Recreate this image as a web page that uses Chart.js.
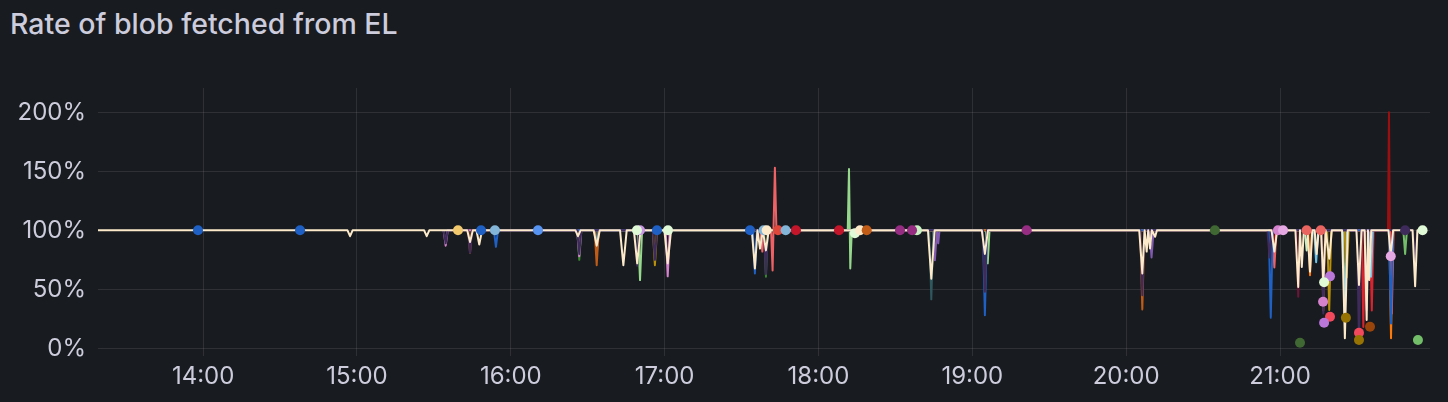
<!DOCTYPE html>
<html>
<head>
<meta charset="utf-8">
<script src="https://cdn.jsdelivr.net/npm/chart.js@4.4.1/dist/chart.umd.min.js"></script>
<style>
  html, body { margin: 0; padding: 0; background: #181b1f; }
  #wrap { position: relative; width: 1448px; height: 402px; background: #181b1f; overflow: hidden; }
  #title { position: absolute; left: 10px; top: 10px; font-family: Inter, sans-serif; font-size: 28.5px; font-weight: 500; line-height: 28px; color: #ccccdc; white-space: nowrap; }
  canvas { position: absolute; left: 0; top: 0; }
</style>
</head>
<body>
<div id="wrap">
  <div id="title">Rate of blob fetched from EL</div>
  <canvas id="c" width="1448" height="402"></canvas>
</div>
<script>
// Time values are minutes since midnight; values are percent.
const xTickMinutes = [840, 900, 960, 1020, 1080, 1140, 1200, 1260];
const yTickValues = [0, 50, 100, 150, 200];

const seriesColors = ['#FCEACA', '#3F2B5B', '#1F60C4', '#C15C17', '#96D98D', '#D683CE', '#B8900A', '#EE6266', '#2F575E', '#7F5AAE', '#9A1010', '#6B1538', '#6EC3E6', '#D8242E', '#FF780A', '#C8F2C2', '#73BF69', '#37872D'];

const cream = [[799,100],[896.3,100],[897.3,95],[898.3,100],[926.2,100],[927.2,95],[928.2,100],[943,100],[944.1,90],[945.2,100],[946.6,100],[947.7,88],[948.8,100],[985.2,100],[986.2,95],[987.2,100],[992.3,100],[993.5,87],[994.7,100],[1002.6,100],[1003.9,70.5],[1005.2,100],[1008,100],[1009.3,72],[1010.6,100],[1019.9,100],[1021.2,72],[1022.5,100],[1054,100],[1055.2,67.7],[1056.2,100],[1057.2,84.6],[1058.3,100],[1059.5,83],[1060.6,100],[1122.7,100],[1124,59],[1125.3,100],[1143.7,100],[1144.9,80],[1146.1,100],[1205.1,100],[1206.3,63.5],[1207.2,100],[1208,82],[1208.6,100],[1209.3,84.6],[1210,100],[1211.3,94.5],[1212,100],[1256.7,100],[1257.8,82],[1258.9,100],[1266,100],[1267.1,52],[1267.8,100],[1268.5,69],[1269.3,100],[1270.7,100],[1271.7,65],[1272.6,100],[1273.5,100],[1274.3,80],[1275.1,100],[1276,100],[1276.9,55],[1277.8,100],[1279.2,76],[1280.2,100],[1284.2,100],[1285.3,8.5],[1286.4,100],[1289.8,100],[1290.8,53.6],[1291.8,100],[1293,100],[1293.8,24],[1294.3,100],[1294.8,58],[1295.6,100],[1302.3,100],[1303.2,78],[1304.1,100],[1311.7,100],[1312.7,52.7],[1313.6,100],[1315.5,100]];
const darkPurple = [[933.8,100],[934.6,89],[935.4,100],[943.3,100],[944.1,81],[944.9,100],[985.9,100],[986.7,80],[987.5,100],[1008.5,100],[1009.3,70],[1010.1,100],[1015.4,100],[1016.2,75],[1017,100],[1058.7,100],[1059.5,63],[1060.3,100],[1144.1,100],[1144.9,48],[1145.7,100],[1205.5,100],[1206.3,45],[1207.1,100],[1255.1,100],[1255.9,77],[1256.7,100],[1276.1,100],[1276.9,29.6],[1277.7,100],[1290,100],[1290.8,5.6],[1291.6,100],[1311.9,100],[1312.7,67.7],[1313.5,100]];
const blue = [[953.4,100],[954.2,86],[955,100],[1054.4,100],[1055.2,63.5],[1056,100],[1144.1,100],[1144.9,28],[1145.7,100],[1255.6,100],[1256.4,26],[1257.2,100],[1302.5,100],[1303.3,21],[1304.1,100]];
const brown = [[943.4,100],[944.1,81],[944.8,100],[992.7,100],[993.5,70.5],[994.3,100],[1205.5,100],[1206.3,33],[1207.1,100],[1276.2,100],[1276.9,32],[1277.6,100]];
const lightGreen = [[1009.6,100],[1010.4,57.8],[1011.2,100],[1091.4,100],[1091.9,152],[1092.4,67.7],[1093,100],[1145.3,100],[1146,72],[1146.7,100]];
const orchid = [[933.8,100],[934.6,87],[935.4,100],[985.9,100],[986.7,78],[987.5,100],[1020.4,100],[1021.2,61],[1022,100]];
const gold = [[1015.4,100],[1016.2,70.5],[1017,100],[1278.4,100],[1279.2,32.4],[1280,100],[1285.2,100],[1286,60],[1286.8,100]];
const salmon = [[1057.3,100],[1058.1,82],[1058.9,100],[1061.5,100],[1062.1,66],[1063,153],[1063.6,100],[1257,100],[1257.8,68.5],[1258.6,100],[1302.9,100],[1303.6,29.6],[1304.3,100]];
const teal = [[1123.2,100],[1124,41.5],[1124.8,100]];
const purple = [[1124.6,100],[1125.4,74.7],[1126.2,100],[1126.7,89],[1127.2,100],[1209.1,100],[1209.9,77],[1210.7,100],[1293,100],[1293.8,32.4],[1294.6,100]];
const darkRed = [[1257.4,100],[1258,85],[1258.6,100],[1302.1,100],[1302.5,200],[1303,50],[1303.5,100]];
const maroon = [[1266.4,100],[1267.1,43.7],[1267.8,100]];
const lightBlue = [[992.9,100],[993.6,82],[994.3,100],[1273.3,100],[1274.1,73],[1274.9,100],[1284.6,100],[1285.3,29.6],[1286,100],[1294.8,100],[1295.5,60.6],[1296.2,100]];
const red = [[1291.8,100],[1292.5,18],[1293.2,100],[1295.1,100],[1295.8,32],[1296.5,100]];
const orange = [[1271,100],[1271.7,62],[1272.4,100],[1302.6,100],[1303.3,8.5],[1304,100]];
const mint = [[1269.7,100],[1270.4,83],[1271.1,100]];
const green = [[1308.1,100],[1308.8,80],[1309.5,100]];
const darkGreen = [[985.9,100],[986.7,75],[987.5,100],[1058.8,100],[1059.5,60.6],[1060.2,100]];

const seriesList = [cream, darkPurple, blue, brown, lightGreen, orchid, gold, salmon, teal, purple, darkRed, maroon, lightBlue, red, orange, mint, green, darkGreen];

// isolated data points (drawn as dots)
const dotTimes  = [838.0, 877.8, 939.4, 948.4, 953.8, 970.6, 1010.4, 1009.2, 1017.0, 1021.3, 1053.3, 1058.6, 1059.8, 1064.2, 1067.2, 1071.2, 1088.0, 1094.2, 1096.2, 1098.8, 1111.8, 1118.4, 1116.5, 1161.2, 1234.6, 1259.2, 1261.2, 1270.4, 1275.9, 1308.8, 1315.6, 1303.2, 1279.5, 1277.2, 1276.8, 1279.5, 1277.2, 1285.7, 1267.8, 1290.8, 1290.8, 1295.1, 1313.8];
const dotValues = [100, 100, 100, 100, 100, 100, 100, 100, 100, 100, 100, 100, 100, 100, 100, 100, 100, 97.6, 100, 100, 100, 100, 100, 100, 100, 100, 100, 100, 100, 100, 100, 78, 61, 56, 39.4, 26.7, 21.7, 25.9, 4.7, 13.2, 7, 18.3, 7];
const dotColors = ['#1F60C4', '#1F60C4', '#F2C96D', '#1F60C4', '#82B5D8', '#5794F2', '#CA95E5', '#E0F9D7', '#1F60C4', '#E0F9D7', '#1F60C4', '#82B5D8', '#FCEACA', '#E0483C', '#82B5D8', '#C4162A', '#C4162A', '#E0F9D7', '#FCEACA', '#C15C17', '#962D82', '#C8F2C2', '#962D82', '#962D82', '#3F6833', '#D683CE', '#E5A8E2', '#EA6460', '#EA6460', '#3F2B5B', '#E0F9D7', '#E5A8E2', '#B877D9', '#E0F9D7', '#D683CE', '#F2495C', '#B877D9', '#967302', '#3F6833', '#F2495C', '#967302', '#99440A', '#73BF69'];

const datasets = [{
  data: dotTimes.map((t, i) => ({ x: t, y: dotValues[i] })),
  showLine: false,
  pointRadius: 5,
  pointHoverRadius: 5,
  pointBorderWidth: 0,
  pointBackgroundColor: dotColors,
  borderColor: 'transparent'
}];
seriesList.forEach((s, i) => {
  datasets.push({
    data: s.map(p => ({ x: p[0], y: p[1] })),
    borderColor: seriesColors[i],
    borderWidth: 2,
    pointRadius: 0,
    tension: 0,
    fill: false,
    borderJoinStyle: 'round'
  });
});

function fmtTime(m) {
  const h = Math.floor(m / 60), mm = Math.round(m % 60);
  return h + ':' + (mm < 10 ? '0' : '') + mm;
}

Chart.defaults.font.family = 'Inter, sans-serif';
Chart.defaults.color = '#ccccdc';

new Chart(document.getElementById('c'), {
  type: 'line',
  data: { datasets },
  options: {
    responsive: false,
    animation: false,
    devicePixelRatio: 1,
    layout: { padding: { top: 88, right: 18, left: 0, bottom: 0 } },
    plugins: { legend: { display: false }, tooltip: { enabled: false }, title: { display: false } },
    scales: {
      x: {
        type: 'linear',
        min: 799,
        max: 1318.5,
        afterBuildTicks: s => { s.ticks = xTickMinutes.map(v => ({ value: v })); },
        afterFit: s => { s.height = 46; },
        ticks: { callback: v => fmtTime(v), font: { size: 24 }, color: '#ccccdc', padding: 6, maxRotation: 0, autoSkip: false },
        grid: { color: 'rgba(204,204,220,0.12)', drawTicks: false, lineWidth: 1 },
        border: { display: false }
      },
      y: {
        type: 'linear',
        min: -6.5,
        max: 220.6,
        afterBuildTicks: s => { s.ticks = yTickValues.map(v => ({ value: v })); },
        afterFit: s => { s.width = 98; },
        ticks: { callback: v => v + '%', font: { size: 24 }, color: '#ccccdc', padding: 12 },
        grid: { color: 'rgba(204,204,220,0.12)', drawTicks: false, lineWidth: 1 },
        border: { display: false }
      }
    }
  }
});
</script>
</body>
</html>
